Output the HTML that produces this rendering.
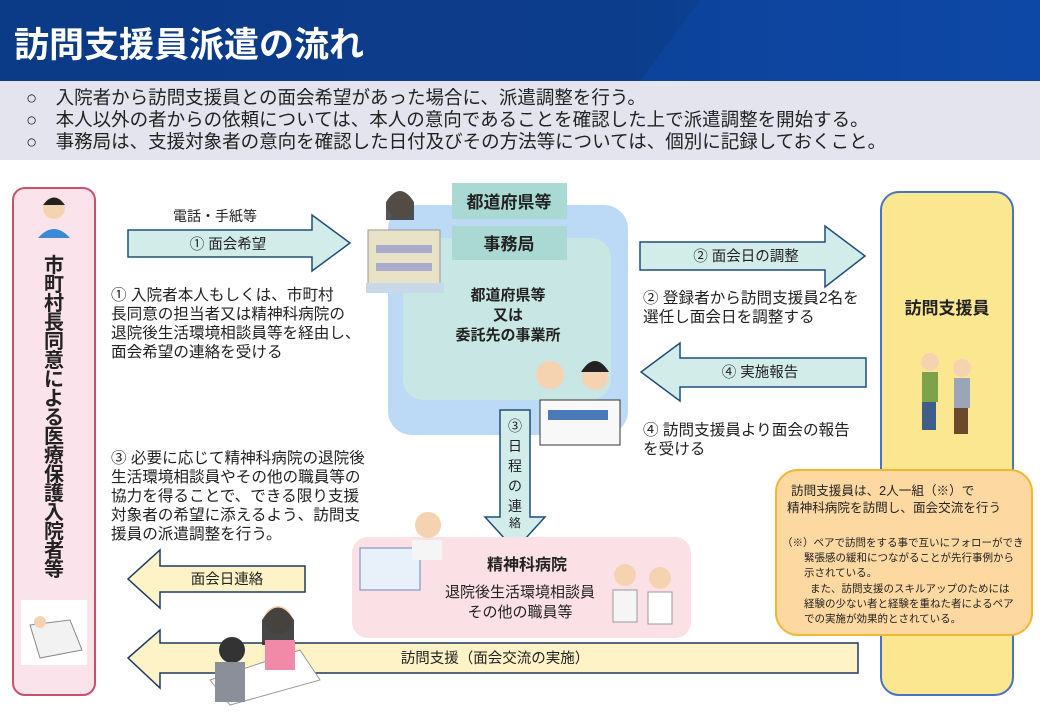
<!DOCTYPE html>
<html><head><meta charset="utf-8">
<style>
html,body{margin:0;padding:0;width:1040px;height:720px;overflow:hidden;background:#fff}
svg{display:block}
text{font-family:"Liberation Sans","Noto Sans CJK JP",sans-serif;fill:#222}
.b{font-weight:bold}
</style></head><body>
<svg width="1040" height="720" viewBox="0 0 1040 720" xmlns="http://www.w3.org/2000/svg">
<defs>
<linearGradient id="hd" x1="0" y1="0" x2="1" y2="0">
<stop offset="0" stop-color="#0b3a86"/><stop offset="0.6" stop-color="#0c3d8c"/><stop offset="1" stop-color="#0f4aa8"/>
</linearGradient>
</defs>
<rect x="0" y="0" width="1040" height="81" fill="url(#hd)"/>
<polygon points="700,0 1040,0 1040,81 640,81" fill="#0d47a5" opacity="0.6"/>
<text x="14" y="57" font-size="35" class="b" style="fill:#fff">訪問支援員派遣の流れ</text>
<rect x="0" y="81" width="1040" height="79" fill="#e4e4ee"/>
<text x="26" y="104" font-size="18.5">○　入院者から訪問支援員との面会希望があった場合に、派遣調整を行う。</text>
<text x="26" y="126" font-size="18.5">○　本人以外の者からの依頼については、本人の意向であることを確認した上で派遣調整を開始する。</text>
<text x="26" y="148" font-size="18.5">○　事務局は、支援対象者の意向を確認した日付及びその方法等については、個別に記録しておくこと。</text>

<rect x="13" y="188" width="82" height="507" rx="12" fill="#fae3ea" stroke="#c9506e" stroke-width="2"/>
<circle cx="54" cy="208" r="11" fill="#f6d3b0"/><path d="M43 205 Q54 190 65 205 Z" fill="#222"/>
<path d="M38 238 Q54 220 70 238 Z" fill="#3a8ad6"/>
<text x="54" y="272" font-size="20" class="b" text-anchor="middle">
<tspan x="54" dy="0">市</tspan><tspan x="54" dy="19">町</tspan><tspan x="54" dy="19">村</tspan><tspan x="54" dy="19">長</tspan><tspan x="54" dy="19">同</tspan><tspan x="54" dy="19">意</tspan><tspan x="54" dy="19">に</tspan><tspan x="54" dy="19">よ</tspan><tspan x="54" dy="19">る</tspan><tspan x="54" dy="19">医</tspan><tspan x="54" dy="19">療</tspan><tspan x="54" dy="19">保</tspan><tspan x="54" dy="19">護</tspan><tspan x="54" dy="19">入</tspan><tspan x="54" dy="19">院</tspan><tspan x="54" dy="19">者</tspan><tspan x="54" dy="19">等</tspan></text>
<rect x="21" y="600" width="66" height="65" fill="#fff"/>
<polygon points="30,625 70,620 82,650 40,658" fill="#f2f2f2" stroke="#888"/>
<circle cx="40" cy="622" r="6" fill="#f6d3b0"/>

<rect x="881" y="192" width="132" height="503" rx="18" fill="#fbe78f" stroke="#4a72c4" stroke-width="2"/>
<text x="947" y="314" font-size="17" class="b" text-anchor="middle">訪問支援員</text>
<circle cx="930" cy="362" r="9" fill="#f6d3b0"/><rect x="922" y="372" width="16" height="30" fill="#7da348"/><rect x="922" y="402" width="14" height="28" fill="#3f5f8a"/>
<circle cx="962" cy="368" r="9" fill="#f6d3b0"/><rect x="954" y="378" width="16" height="30" fill="#9aa6b8"/><rect x="954" y="408" width="14" height="26" fill="#6a4a2a"/>

<rect x="388" y="205" width="240" height="230" rx="24" fill="#bcd9f6"/>
<rect x="403" y="238" width="208" height="162" rx="20" fill="#c8e6e3"/>
<rect x="452" y="183" width="115" height="36" fill="#a9d9d2"/>
<text x="509" y="208" font-size="17" class="b" text-anchor="middle">都道府県等</text>
<rect x="452" y="226" width="115" height="34" fill="#a9d9d2"/>
<text x="509" y="250" font-size="17" class="b" text-anchor="middle">事務局</text>
<text x="508" y="300" font-size="15" class="b" text-anchor="middle">都道府県等</text>
<text x="508" y="320" font-size="15" class="b" text-anchor="middle">又は</text>
<text x="508" y="340" font-size="15" class="b" text-anchor="middle">委託先の事業所</text>
<circle cx="400" cy="205" r="13" fill="#f6d3b0"/><path d="M386 202 Q400 180 414 202 L414 220 L386 220Z" fill="#2a2a2a" opacity="0.8"/>
<rect x="368" y="230" width="72" height="62" fill="#e8e3c6" stroke="#999"/>
<rect x="376" y="245" width="56" height="8" fill="#aac"/><rect x="376" y="263" width="56" height="8" fill="#aac"/>
<rect x="366" y="283" width="78" height="10" fill="#c9d8e8"/>
<circle cx="550" cy="375" r="14" fill="#f6d3b0"/><circle cx="595" cy="377" r="13" fill="#f6d3b0"/>
<path d="M581 372 Q595 350 609 372Z" fill="#222"/>
<rect x="540" y="400" width="80" height="45" fill="#f8f8f8" stroke="#333"/>
<rect x="548" y="410" width="60" height="10" fill="#4a7ab8"/>

<g fill="#d2ecea" stroke="#1f4e79" stroke-width="1.5">
<polygon points="128,230 312,230 312,215 350,243 312,271 312,257 128,257"/>
<polygon points="640,242 825,242 825,226 865,256 825,287 825,270 640,270"/>
<polygon points="866,358 680,358 680,343 641,372 680,401 680,387 866,387"/>
<polygon points="500,410 530,410 530,517 545,517 515,550 485,517 500,517"/>
</g>
<text x="215" y="221" font-size="14" text-anchor="middle">電話・手紙等</text>
<text x="228" y="249" font-size="14.5" text-anchor="middle">① 面会希望</text>
<text x="746" y="261" font-size="14.5" text-anchor="middle">② 面会日の調整</text>
<text x="760" y="377" font-size="14.5" text-anchor="middle">④ 実施報告</text>
<text x="515" y="431" font-size="14" text-anchor="middle"><tspan x="515">③</tspan><tspan x="515" dy="20">日</tspan><tspan x="515" dy="20">程</tspan><tspan x="515" dy="20">の</tspan><tspan x="515" dy="20">連</tspan><tspan x="515" dy="16" font-size="12">絡</tspan></text>

<g font-size="15.6">
<text x="111" y="300">① 入院者本人もしくは、市町村</text>
<text x="111" y="319">長同意の担当者又は精神科病院の</text>
<text x="111" y="338">退院後生活環境相談員等を経由し、</text>
<text x="111" y="357">面会希望の連絡を受ける</text>
<text x="111" y="463">③ 必要に応じて精神科病院の退院後</text>
<text x="111" y="482">生活環境相談員やその他の職員等の</text>
<text x="111" y="501">協力を得ることで、できる限り支援</text>
<text x="111" y="520">対象者の希望に添えるよう、訪問支</text>
<text x="111" y="539">援員の派遣調整を行う。</text>
<text x="643" y="303">② 登録者から訪問支援員2名を</text>
<text x="643" y="322">選任し面会日を調整する</text>
<text x="643" y="435">④ 訪問支援員より面会の報告</text>
<text x="643" y="454">を受ける</text>
</g>

<rect x="352" y="537" width="339" height="101" rx="16" fill="#fbe0e6"/>
<text x="527" y="570" font-size="16" class="b" text-anchor="middle">精神科病院</text>
<text x="520" y="597" font-size="15" text-anchor="middle">退院後生活環境相談員</text>
<text x="520" y="617" font-size="15" text-anchor="middle">その他の職員等</text>
<rect x="360" y="548" width="60" height="42" fill="#e8f0fa" stroke="#6a8ab8"/>
<circle cx="428" cy="525" r="13" fill="#f6d3b0"/><rect x="412" y="540" width="30" height="20" fill="#f5f5f5"/>
<circle cx="625" cy="575" r="11" fill="#f6d3b0"/><rect x="613" y="590" width="24" height="32" fill="#f5f5f5" stroke="#999"/>
<circle cx="660" cy="578" r="11" fill="#f6d3b0"/><rect x="648" y="592" width="24" height="32" fill="#fff" stroke="#999"/>

<g fill="#fdf3c6" stroke="#1f3864" stroke-width="1.5">
<polygon points="305,566 160,566 160,550 128,579 160,608 160,592 305,592"/>
<polygon points="858,643 160,643 160,630 128,658 160,688 160,673 858,673"/>
</g>
<text x="227" y="584" font-size="14.5" text-anchor="middle">面会日連絡</text>
<text x="495" y="663" font-size="14.5" text-anchor="middle">訪問支援（面会交流の実施）</text>
<polygon points="210,680 300,650 320,680 230,705" fill="#fff" stroke="#999"/>
<circle cx="278" cy="620" r="14" fill="#f6d3b0"/><path d="M262 620 Q278 595 294 620 L294 645 L262 645Z" fill="#333" opacity="0.9"/>
<rect x="265" y="640" width="30" height="30" fill="#f08aa8"/>
<circle cx="232" cy="650" r="13" fill="#333"/><rect x="215" y="662" width="30" height="40" fill="#8a8f99"/>

<rect x="776" y="470" width="256" height="165" rx="22" fill="#fdd9a1" stroke="#f1b733" stroke-width="2"/>
<g font-size="12.6">
<text x="791" y="495">訪問支援員は、2人一組（※）で</text>
<text x="787" y="512">精神科病院を訪問し、面会交流を行う</text>
</g>
<g font-size="10.5">
<text x="782" y="546">（※）ペアで訪問をする事で互いにフォローができ</text>
<text x="804" y="561">緊張感の緩和につながることが先行事例から</text>
<text x="804" y="576">示されている。</text>
<text x="810" y="592">また、訪問支援のスキルアップのためには</text>
<text x="804" y="607">経験の少ない者と経験を重ねた者によるペア</text>
<text x="804" y="622">での実施が効果的とされている。</text>
</g>
</svg>
</body></html>
